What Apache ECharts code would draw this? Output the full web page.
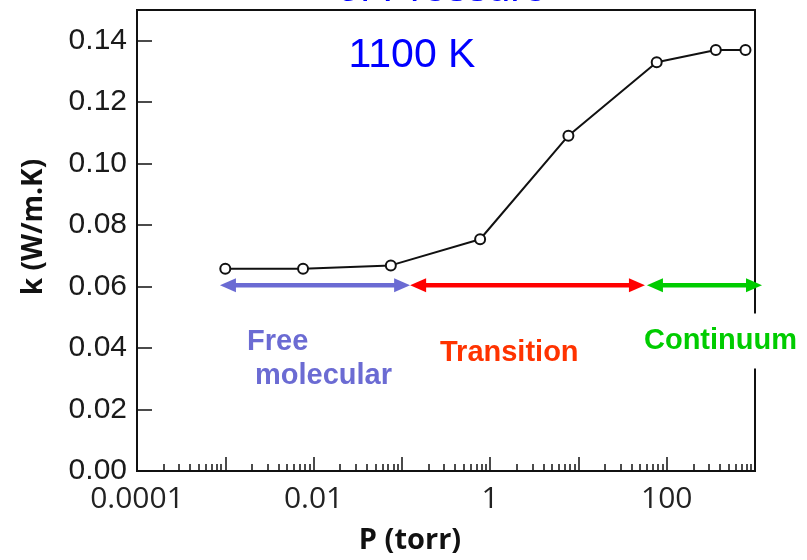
<!DOCTYPE html>
<html>
<head>
<meta charset="utf-8">
<script src="https://cdn.jsdelivr.net/npm/echarts@6/dist/echarts.min.js"></script>
<style>html,body{margin:0;background:#fff}#chart{width:807px;height:560px}</style>
</head>
<body>
<div id="chart"></div>
<script>
// measured points (P in torr, k in W/m.K)
const pressure = [0.001, 0.0076, 0.075, 0.77, 7.7, 77, 360, 780];
const conductivity = [0.0658, 0.0658, 0.0669, 0.0754, 0.1091, 0.1330, 0.1370, 0.1370];

const yTickValues = [0, 0.02, 0.04, 0.06, 0.08, 0.10, 0.12, 0.14];
const xLabelValues = [0.0001, 0.01, 1, 100];
const xDecades = [0.0001, 0.001, 0.01, 0.1, 1, 10, 100, 1000];

// flow regimes: arrow span along P at one k level
const regimeNames = ['Free molecular', 'Transition', 'Continuum'];
const regimeFrom = [0.00087, 0.124, 59.7];
const regimeTo = [0.124, 56.7, 1200];
const regimeColors = ['#6b6bd3', '#ff0000', '#00cc00'];
const regimeLevel = 0.0604;

// minor tick positions 2..9 within each decade
const xMinor = [];
xDecades.slice(0, -1).forEach(d => {
  for (let m = 2; m <= 9; m++) xMinor.push(parseFloat((d * m).toPrecision(3)));
});

const chart = echarts.init(document.getElementById('chart'), null, { renderer: 'canvas' });

const baseX = {
  type: 'log', logBase: 10, min: 0.0001, max: 1000, position: 'bottom', gridIndex: 0,
  splitLine: { show: false }
};

chart.setOption({
  animation: false,
  backgroundColor: '#fff',
  grid: { left: 137, right: 52, top: 10, bottom: 89, show: true, borderColor: '#111', borderWidth: 2 },
  xAxis: [
    Object.assign({}, baseX, {
      axisLine: { lineStyle: { color: '#111', width: 2 } },
      axisTick: { inside: true, length: 14, lineStyle: { color: '#111', width: 1.5 }, customValues: xDecades },
      axisLabel: {
        customValues: xLabelValues, margin: 13, color: '#222',
        fontFamily: 'Open Sans', fontSize: 30,
        formatter: v => String(v)
      }
    }),
    Object.assign({}, baseX, {
      axisLine: { show: false },
      axisTick: { inside: true, length: 7, lineStyle: { color: '#111', width: 1.5 }, customValues: xMinor },
      axisLabel: { show: false }
    })
  ],
  yAxis: {
    type: 'value', min: 0, max: 0.15, interval: 0.02,
    splitLine: { show: false },
    axisLine: { show: true, lineStyle: { color: '#111', width: 2 } },
    axisTick: { show: true, inside: true, length: 15, lineStyle: { color: '#111', width: 1.5 }, customValues: yTickValues },
    axisLabel: {
      customValues: yTickValues, margin: 10, color: '#1a1a1a',
      fontFamily: 'Liberation Sans', fontSize: 30,
      formatter: v => v.toFixed(2)
    }
  },
  series: [{
    type: 'line',
    data: pressure.map((p, i) => [p, conductivity[i]]),
    symbol: 'emptyCircle', symbolSize: 10,
    lineStyle: { color: '#111', width: 2 },
    itemStyle: { color: '#111', borderWidth: 1 }
  }]
});

// arrows for each regime, positioned through the axes
const graphics = [];
regimeNames.forEach((name, i) => {
  const a = chart.convertToPixel({ seriesIndex: 0 }, [regimeFrom[i], regimeLevel]);
  const b = chart.convertToPixel({ seriesIndex: 0 }, [regimeTo[i], regimeLevel]);
  const head = 16, half = 7, c = regimeColors[i];
  graphics.push(
    { type: 'line', z: 50, shape: { x1: a[0] + head - 2, y1: a[1], x2: b[0] - head + 2, y2: b[1] }, style: { stroke: c, lineWidth: 4.5 } },
    { type: 'polygon', z: 50, shape: { points: [[a[0], a[1]], [a[0] + head, a[1] - half], [a[0] + head, a[1] + half]] }, style: { fill: c } },
    { type: 'polygon', z: 50, shape: { points: [[b[0], b[1]], [b[0] - head, b[1] - half], [b[0] - head, b[1] + half]] }, style: { fill: c } }
  );
});

const bold29 = 'bold 29px "Liberation Sans"';
graphics.push(
  { type: 'text', z: 60, x: 337, y: -10, style: { text: 'of Pressure', fill: '#0000ff', font: '41px "Liberation Sans"', align: 'left', verticalAlign: 'middle' } },
  { type: 'text', z: 60, x: 412, y: 56, style: { text: '1100 K', fill: '#0000ff', font: '41px "Liberation Sans"', align: 'center', verticalAlign: 'middle' } },
  { type: 'text', z: 60, x: 247, y: 342, style: { text: 'Free', fill: '#6b6bd3', font: bold29, align: 'left', verticalAlign: 'middle' } },
  { type: 'text', z: 60, x: 255, y: 376, style: { text: 'molecular', fill: '#6b6bd3', font: bold29, align: 'left', verticalAlign: 'middle' } },
  { type: 'text', z: 60, x: 440, y: 353, style: { text: 'Transition', fill: '#ff3300', font: bold29, align: 'left', verticalAlign: 'middle' } },
  { type: 'text', z: 60, x: 642, y: 341, style: { text: 'Continuum', fill: '#00cc00', font: bold29, align: 'left', verticalAlign: 'middle', backgroundColor: '#fff', padding: [13, 2, 13, 2] } },
  { type: 'text', z: 60, x: 410, y: 541, style: { text: 'P (torr)', fill: '#111', font: 'bold 29px "Open Sans"', align: 'center', verticalAlign: 'middle' } },
  { type: 'text', z: 60, x: 34, y: 227, rotation: Math.PI / 2, style: { text: 'k (W/m.K)', fill: '#111', font: 'bold 28px "Open Sans"', align: 'center', verticalAlign: 'middle' } }
);
chart.setOption({ graphic: graphics });
</script>
</body>
</html>
